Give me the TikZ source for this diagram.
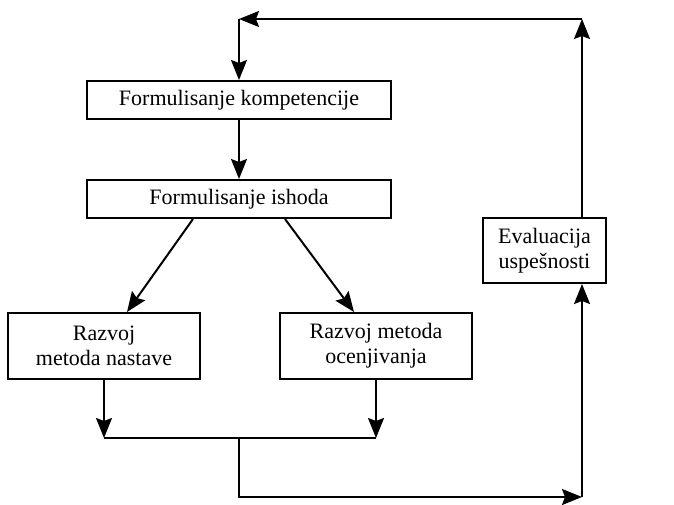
\documentclass[tikz,border=0pt]{standalone}
\usepackage{fontspec}
\setmainfont{Liberation Serif}
\usetikzlibrary{arrows.meta}
\usetikzlibrary{positioning}
\usetikzlibrary{calc}

\begin{document}
\begin{tikzpicture}[
        x=1pt, y=-1pt,
        every node/.style={font=\fontsize{22}{25}\selectfont},
        box/.style={rectangle, draw=black, line width=2pt, inner sep=0pt, align=center},
        wide/.style={box, minimum width=304pt, minimum height=38pt},
        tall/.style={box, minimum width=192pt, minimum height=66pt},
        flow/.style={line width=2pt, -{Stealth[length=20pt,width=16pt,inset=3pt]}}
      ]
      \useasboundingbox (0,0) rectangle (674,505);

      \node (komp) [wide] at (239,100) {Formulisanje kompetencije};
      \node (ishod) [wide, below=59pt of komp] {Formulisanje ishoda};
      \node (nastava) [tall] at (104,346) {Razvoj\\metoda nastave};
      \node (ocena) [tall, right=78pt of nastava] {Razvoj metoda\\ocenjivanja};
      \node (eval) [box, minimum width=123pt, minimum height=65pt] at (544.5,250.5) {Evaluacija\\uspešnosti};

      \coordinate (gore) at (582,19);
      \coordinate (levo) at (239,19);
      \coordinate (spoj) at (239,438);
      \coordinate (dole) at (239,497);
      \coordinate (desno) at (582,497);

      % povratna petlja
      \draw[flow] (eval.north -| gore) -- (gore);
      \draw[flow] (gore) -- (levo);
      \draw[flow] (levo) -- (komp.north);

      \draw[flow] (komp) -- (ishod);
      \draw[flow] ($(ishod.south)+(-46,0)$) -- ($(nastava.north)+(23,0)$);
      \draw[flow] ($(ishod.south)+(46,0)$) -- ($(ocena.north)+(-22,0)$);

      \draw[flow] (nastava) -- (nastava |- spoj);
      \draw[flow] (ocena) -- (ocena |- spoj);
      \draw[line width=2pt] (nastava |- spoj) -- (ocena |- spoj);
      \draw[flow] (spoj) -- (dole) -- (desno);
      \draw[flow] (desno) -- (eval.south -| desno);
    \end{tikzpicture}
\end{document}
